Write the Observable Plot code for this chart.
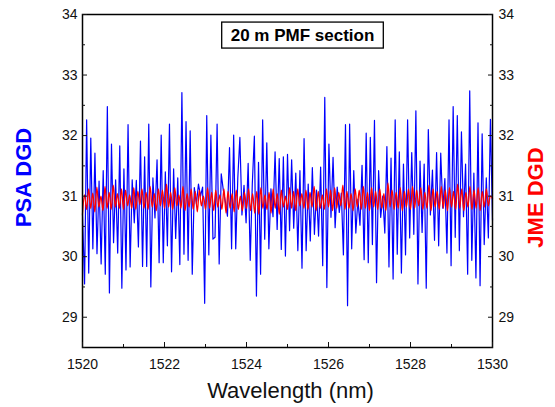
<!DOCTYPE html>
<html><head><meta charset="utf-8">
<script src="https://cdn.jsdelivr.net/npm/d3@7"></script>
<script src="https://cdn.jsdelivr.net/npm/@observablehq/plot@0.6"></script>
<style>
body{margin:0;background:#fff}
#chart svg{font-family:"Liberation Sans",Arial,sans-serif;}
</style>
</head><body><div id="chart"></div>
<script>
// ---- data ----
const wavelengthStart = 1520;
const wavelengthEnd = 1530;
const psaDGD = [
30.70,
29.55,32.26,29.73,31.96,30.13,31.71,30.05,31.25,29.88,31.42,29.71,32.48,29.40,31.86,30.23,31.27,30.06,31.83,29.48,31.45,
29.78,32.18,29.83,31.27,30.56,31.26,30.16,31.91,29.84,31.65,29.84,32.19,29.50,31.30,30.64,31.60,29.90,32.01,29.90,31.40,
30.18,32.19,29.75,31.45,30.30,31.30,29.87,32.71,
30.04,32.23,29.94,32.08,29.71,31.14,30.87,31.20,31.00,31.15,29.23,32.33,30.03,32.01,30.29,30.32,32.19,29.88,31.37,31.10,
30.90,30.67,31.80,30.13,32.01,30.13,31.30,31.97,30.69,31.18,30.56,31.54,29.94,31.20,31.99,29.35,31.56,29.71,32.26,30.29,
31.88,30.13,31.12,30.66,31.73,30.45,31.62,30.12,31.65,30.01,31.69,30.43,31.60,
30.47,31.38,30.10,31.42,29.81,31.95,30.10,31.20,30.26,31.47,30.37,31.10,30.34,31.48,29.85,32.63,29.49,31.86,30.65,31.64,
30.48,31.15,30.73,31.05,30.03,32.18,29.19,32.19,30.13,31.42,30.39,30.95,30.52,31.51,29.95,32.04,29.90,31.97,30.20,32.25,
29.57,31.42,30.65,31.00,30.39,31.82,29.83,31.63,
29.63,32.26,30.04,31.73,29.73,31.53,30.03,32.26,30.31,31.72,30.37,32.41,29.55,31.58,30.40,31.53,29.48,32.10,30.69,31.43,
30.27,31.72,30.18,31.71,30.80,31.29,30.06,32.26,29.85,32.48,30.32,32.33,30.10,32.06,30.66,31.53,29.71,32.74,29.94,31.38,
29.65,32.21,29.52,32.03,30.20,31.30,30.31,32.27,30.60
];
const jmeDGD = [
30.70,31.02,30.78,31.12,30.80,31.05,30.74,31.15,30.82,31.00,
30.76,31.16,30.80,31.06,30.78,31.18,30.82,31.04,30.80,31.12,
30.78,31.10,30.84,31.02,30.80,31.14,30.78,31.08,30.86,31.12,
30.80,31.06,30.78,31.16,30.82,31.04,30.76,31.12,30.84,31.10,
30.80,31.20,30.82,31.06,30.78,31.14,30.84,31.02,30.80,31.16,
30.76,31.04,30.82,31.12,30.78,31.08,30.74,31.10,30.84,31.00,
30.78,31.14,30.80,31.06,30.76,31.10,30.82,31.02,30.78,31.12,
30.72,31.08,30.80,31.04,30.74,31.10,30.78,31.00,30.76,31.06,
30.80,31.12,30.76,31.04,30.72,31.08,30.70,31.14,30.80,31.02,
30.78,31.06,30.72,31.12,30.80,31.04,30.70,31.10,30.82,31.00,
30.78,31.14,30.80,31.08,30.76,31.12,30.84,31.04,30.80,31.10,
30.78,31.06,30.82,31.16,30.76,31.08,30.80,31.02,30.78,31.12,
30.82,31.10,30.76,31.14,30.80,31.06,30.84,31.18,30.78,31.08,
30.80,31.04,30.76,31.12,30.82,31.10,30.78,31.16,30.80,31.06,
30.76,31.14,30.82,31.08,30.78,31.12,30.80,31.04,30.76,31.22,
30.82,31.10,30.78,31.06,30.80,31.14,30.76,31.08,30.82,31.12,
30.78,31.16,30.80,31.10,30.84,31.14,30.78,31.06,30.80,31.18,
30.76,31.12,30.82,31.08,30.78,31.16,30.80,31.10,30.76,31.14,
30.82,31.08,30.78,31.20,30.80,31.12,30.76,31.06,30.82,31.16,
30.78,31.10,30.80,31.14,30.76,31.08,30.82,31.12,30.84,31.00,
30.96
];
const xMajorTicks = [1520,1522,1524,1526,1528,1530];
const xMinorTicks = [1521,1523,1525,1527,1529];
const yMajorTicks = [29,30,31,32,33,34];
const yMinorTicks = [28.5,29.5,30.5,31.5,32.5,33.5];
const yDomain = [28.5,34];
const xLabel = "Wavelength (nm)";
const leftLabel = "PSA DGD";
const rightLabel = "JME DGD";
const titleText = "20 m PMF section";

// ---- build tables ----
const toRows = arr => arr.map((v,i)=>({wl: wavelengthStart + i*(wavelengthEnd-wavelengthStart)/(arr.length-1), v}));
const psa = toRows(psaDGD);
const jme = toRows(jmeDGD);

const plot = Plot.plot({
  width: 555, height: 407,
  marginLeft: 82, marginRight: 63, marginTop: 14, marginBottom: 60,
  style: {background: "#fff", color: "#111", fontSize: "14px", fontFamily: "'Liberation Sans', Arial, sans-serif"},
  x: {domain: [wavelengthStart, wavelengthEnd]},
  y: {domain: yDomain},
  marks: [
    Plot.line(psa, {x: "wl", y: "v", stroke: "#0000ff", strokeWidth: 1.2}),
    Plot.line(jme, {x: "wl", y: "v", stroke: "#ff0000", strokeWidth: 1.3, curve: "catmull-rom"}),
    Plot.frame({stroke: "#000", strokeWidth: 1.5}),
    Plot.axisX(xMajorTicks, {tickSize: -5, tickPadding: 17, tickFormat: d => String(d), label: null, fontSize: 14}),
    Plot.axisX(xMinorTicks, {tickSize: -3, text: null, label: null}),
    Plot.axisY(yMajorTicks, {anchor: "left", tickSize: -5, tickPadding: 10, tickFormat: d => String(d), label: null, fontSize: 14}),
    Plot.axisY(yMinorTicks, {anchor: "left", tickSize: -3, text: null, label: null}),
    Plot.axisY(yMajorTicks, {anchor: "right", tickSize: -5, tickPadding: 11, tickFormat: d => String(d), label: null, fontSize: 14}),
    Plot.axisY(yMinorTicks, {anchor: "right", tickSize: -3, text: null, label: null}),
    Plot.text([xLabel], {frameAnchor: "bottom", dy: 43, dx: 3, fontSize: 22, fill: "#111", textAnchor: "middle", lineAnchor: "middle"}),
    Plot.text([leftLabel], {frameAnchor: "left", dx: -59, dy: -3.5, rotate: -90, fontSize: 22, fontWeight: "bold", fill: "#0000ff", textAnchor: "middle", lineAnchor: "middle"}),
    Plot.text([rightLabel], {frameAnchor: "right", dx: 43, dy: 16.5, rotate: -90, fontSize: 22, fontWeight: "bold", fill: "#ff0000", textAnchor: "middle", lineAnchor: "middle"}),
    Plot.text([titleText], {frameAnchor: "top", dx: 15, dy: 14, fontSize: 17, fontWeight: "bold", fill: "#000", textAnchor: "middle", className: "title-box"})
  ]
});
document.getElementById("chart").appendChild(plot);

// box around the title annotation, sized from the rendered text
const t = plot.querySelector("g.title-box text");
if (t) {
  const bb = t.getBBox();
  const rect = document.createElementNS("http://www.w3.org/2000/svg", "rect");
  const padX = 9, padY = 3.5;
  rect.setAttribute("x", bb.x - padX);
  rect.setAttribute("y", bb.y - padY);
  rect.setAttribute("width", bb.width + 2*padX);
  rect.setAttribute("height", bb.height + 2*padY);
  rect.setAttribute("fill", "#fff");
  rect.setAttribute("stroke", "#000");
  rect.setAttribute("stroke-width", "1.3");
  const tr = t.getAttribute("transform");
  if (tr) rect.setAttribute("transform", tr);
  t.parentNode.insertBefore(rect, t);
}
</script>
</body></html>
